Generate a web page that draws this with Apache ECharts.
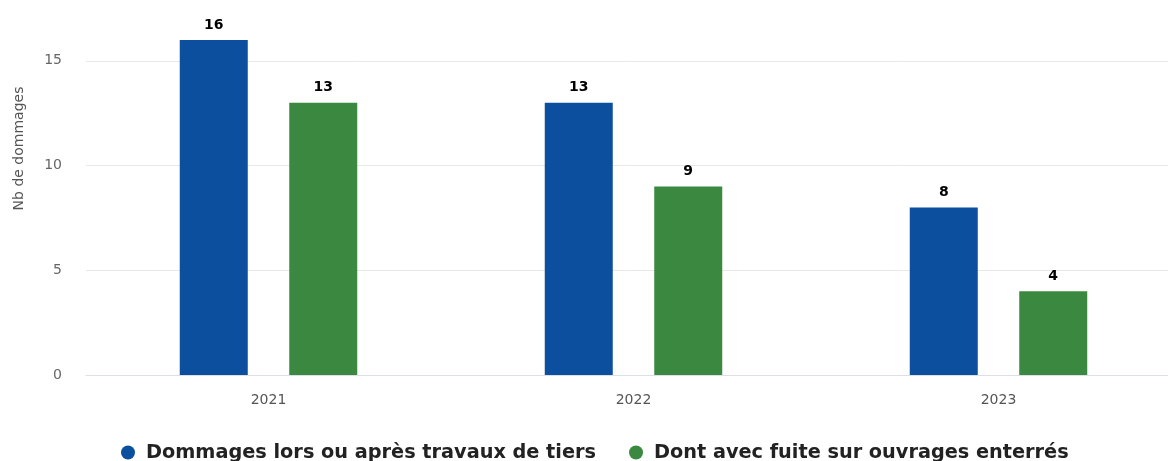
<!DOCTYPE html>
<html>
<head>
<meta charset="utf-8">
<script src="https://cdn.jsdelivr.net/npm/echarts@6/dist/echarts.min.js"></script>
<style>
html,body{margin:0;padding:0;background:#fff;}
#chart{width:1168px;height:461px;}
</style>
</head>
<body>
<div id="chart"></div>
<script>
const categories = ['2021', '2022', '2023'];
const seriesNames = ['Dommages lors ou après travaux de tiers', 'Dont avec fuite sur ouvrages enterrés'];
const dommages = [16, 13, 8];
const fuites = [13, 9, 4];
const yTicks = [0, 5, 10, 15];

const chart = echarts.init(document.getElementById('chart'));
const FONT = 'DejaVu Sans, Liberation Sans, sans-serif';
const labelCfg = {
  show: true, position: 'top', distance: 8,
  color: '#000', fontWeight: 'bold', fontSize: 14, fontFamily: FONT
};
chart.setOption({
  animation: false,
  textStyle: { fontFamily: FONT },
  grid: { left: 86, width: 1095, top: -2, height: 377, outerBoundsMode: 'none', containLabel: false },
  legend: {
    bottom: -6, left: 116,
    icon: 'circle', itemWidth: 26, itemHeight: 14, itemGap: 33,
    textStyle: { fontSize: 19.3, fontWeight: 'bold', color: '#222', fontFamily: FONT },
    data: seriesNames
  },
  xAxis: {
    type: 'category', data: categories,
    axisLine: { lineStyle: { color: '#dcdfe6' } },
    axisTick: { show: false },
    axisLabel: { color: '#555', fontSize: 14, margin: 18, fontFamily: FONT }
  },
  yAxis: {
    type: 'value', min: 0, max: 18, interval: 5,
    name: 'Nb de dommages', nameLocation: 'middle', nameGap: 60,
    nameTextStyle: { color: '#555', fontSize: 14, fontFamily: FONT, padding: [0, 0, 0, 76] },
    axisLine: { show: false }, axisTick: { show: false },
    axisLabel: { color: '#666', fontSize: 14, margin: 24, showMaxLabel: false, fontFamily: FONT,
      formatter: v => yTicks.includes(v) ? String(v) : '' },
    splitLine: { lineStyle: { color: '#e8e8e8' } }
  },
  series: [
    { name: seriesNames[0], type: 'bar', data: dommages, barWidth: 68, barGap: '61%',
      itemStyle: { color: '#0b4f9e' }, label: labelCfg },
    { name: seriesNames[1], type: 'bar', data: fuites, barWidth: 68,
      itemStyle: { color: '#3b8940' }, label: labelCfg }
  ]
});
</script>
</body>
</html>
